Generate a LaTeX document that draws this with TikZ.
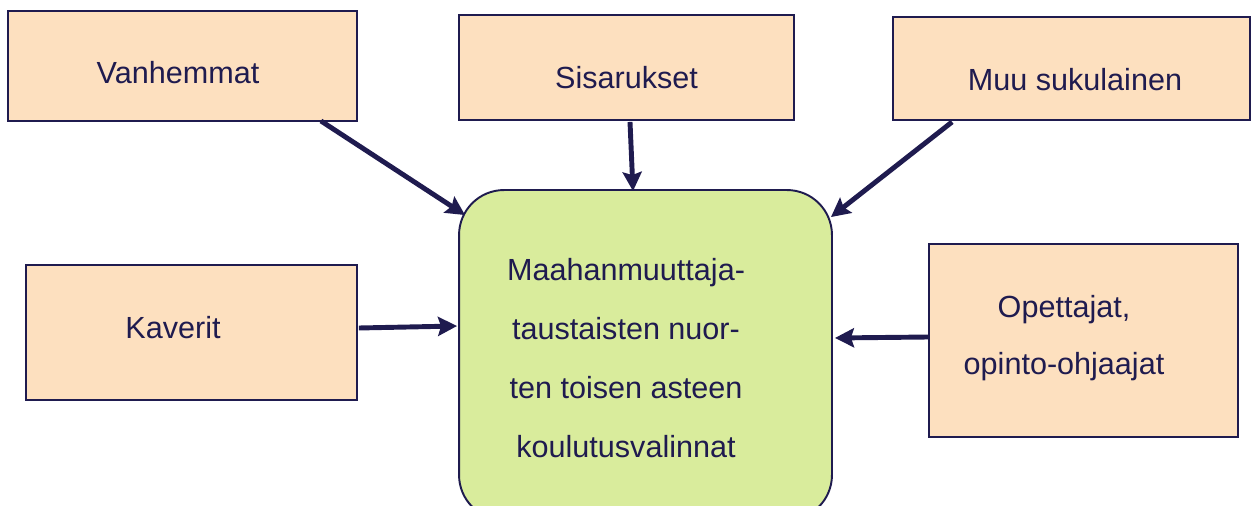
\documentclass[tikz,border=0pt]{standalone}
\usepackage{fontspec}
\setmainfont{Liberation Sans}
\usepackage{tikz}
\usetikzlibrary{calc,arrows.meta}
\usetikzlibrary{positioning,shapes}

\definecolor{navy}{HTML}{1F1B4F}
\definecolor{peach}{HTML}{FDE0BF}
\definecolor{lime}{HTML}{D9EC9C}

\begin{document}
\begin{tikzpicture}[x=0.02cm,y=-0.02cm]
		\tikzset{box/.style={draw=navy, line width=1.1pt, fill=peach, rectangle, inner sep=0pt},
			lbl/.style={text=navy, font=\fontsize{17.4}{32.5}\selectfont, align=center},
			infl/.style={draw=navy, line width=2.8pt, -{Stealth[length=0.38cm, width=0.38cm, inset=0.06cm]}}}
		\useasboundingbox (0,0) rectangle (1253,506);
		%\draw[step=50,gray,very thin] (0,0) grid (1253,506);
		\node[box, minimum width=6.98cm, minimum height=2.2cm, label={[lbl,xshift=-0.09cm,yshift=-0.14cm]center:Vanhemmat}] (vanh) at (182.5,66) {};
		\node[box, minimum width=6.7cm, minimum height=2.1cm, label={[lbl,yshift=-0.21cm]center:Sisarukset}] (sisar) at (626.5,67.5) {};
		\node[box, minimum width=7.14cm, minimum height=2.06cm, label={[lbl,xshift=0.07cm,yshift=-0.23cm]center:Muu sukulainen}] (muu) at (1071.5,68.5) {};
		\node[box, minimum width=6.62cm, minimum height=2.7cm, label={[lbl,xshift=-0.37cm,yshift=0.09cm]center:Kaverit}] (kav) at (191.5,332.5) {};
		\node[box, minimum width=6.18cm, minimum height=3.86cm, label={[lbl,xshift=-0.39cm,yshift=0.05cm]center:Opettajat,\\opinto-ohjaajat}] (opet) at (1083.5,340.5) {};
		\node[box, fill=lime, rounded corners=0.9cm, minimum width=7.46cm, minimum height=6.6cm, label={[lbl,xshift=-0.39cm,yshift=-0.06cm,font=\fontsize{17.4}{33.5}\selectfont]center:Maahanmuuttaja-\\taustaisten nuor-\\ten toisen asteen\\koulutusvalinnat}] (koulu) at (645.5,355) {};
		\draw[infl] ($(vanh.south east)+(-37,-1)$) -- ($(koulu.north west)+(7,26)$);
		\draw[infl] ($(sisar.south)+(3.5,1)$) -- ($(koulu.north)+(-12.5,2)$);
		\draw[infl] ($(muu.south west)+(60,1)$) -- ($(koulu.north east)+(-2,28)$);
		\draw[infl] ($(kav.east)+(1,-4.5)$) -- ($(koulu.west)+(-1,-29)$);
		\draw[infl] ($(opet.west)+(0,-3.5)$) -- ($(koulu.east)+(2,-17)$);
	\end{tikzpicture}
\end{document}
